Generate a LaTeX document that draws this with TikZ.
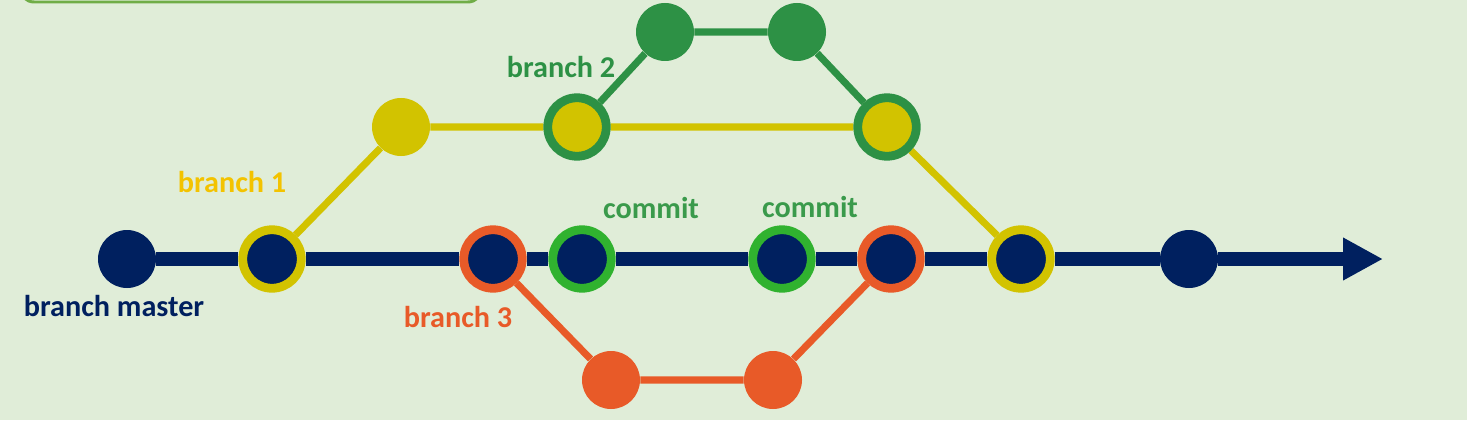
\documentclass[tikz,border=0pt]{standalone}
\usepackage{fontspec}
\setmainfont{Carlito}
\usetikzlibrary{arrows.meta, positioning}
\definecolor{navy}{HTML}{00205F}
\definecolor{bgreen}{HTML}{E0EDD8}
\definecolor{ylw}{HTML}{D2C300}
\definecolor{gold}{HTML}{F3C300}
\definecolor{dkgreen}{HTML}{2D9145}
\definecolor{ltgreen}{HTML}{30B22F}
\definecolor{txgreen}{HTML}{3A9A4B}
\definecolor{orng}{HTML}{E85A28}
\definecolor{boxgreen}{HTML}{70AD47}
\pgfdeclarelayer{bg}
\pgfdeclarelayer{edges}
\pgfsetlayers{bg,edges,main}
\tikzset{
    commitdot/.style={circle, fill=#1, inner sep=0pt, minimum size=1.16cm},
    ringdot/.style 2 args={circle, fill=#2, draw=#1, line width=5pt, inner sep=0pt, minimum size=1.17cm},
    tag/.style={font=\bfseries\fontsize{17.2}{20}\selectfont, text=#1},
    link/.style={line width=#1}
}

\begin{document}
\begin{tikzpicture}
    \begin{pgfonlayer}{bg}
        \fill[bgreen] (0,0.08) rectangle (29.34,8.48);
        \begin{scope}
            \clip (0,0) rectangle (29.48,8.48);
            \draw[boxgreen, line width=1.7pt, rounded corners=8pt] (0.40,9.30) rectangle (9.64,8.44);
        \end{scope}
    \end{pgfonlayer}
    \useasboundingbox (0,0) rectangle (29.48,8.48);

    % master line
    \node[commitdot=navy] (m0) at (2.54,3.30) {};
    \node[ringdot={ylw}{navy}] (m1) at (5.44,3.30) {};
    \node[ringdot={orng}{navy}] (m2) at (9.86,3.30) {};
    \node[ringdot={ltgreen}{navy}] (m3) at (11.64,3.30) {};
    \node[ringdot={ltgreen}{navy}] (m4) at (15.64,3.30) {};
    \node[ringdot={orng}{navy}] (m5) at (17.82,3.30) {};
    \node[ringdot={ylw}{navy}] (m6) at (20.42,3.30) {};
    \node[commitdot=navy] (m7) at (23.78,3.30) {};
    \coordinate (tip) at (27.66,3.30);

    % branch 1
    \node[commitdot=ylw] (y1) at (8.02,5.94) {};
    \node[ringdot={dkgreen}{ylw}] (y2) at (11.54,5.94) {};
    \node[ringdot={dkgreen}{ylw}] (y3) at (17.74,5.94) {};

    % branch 2
    \node[commitdot=dkgreen] (g1) at (13.30,7.84) {};
    \node[commitdot=dkgreen] (g2) at (15.94,7.84) {};

    % branch 3
    \node[commitdot=orng] (o1) at (12.22,0.88) {};
    \node[commitdot=orng] (o2) at (15.46,0.88) {};

    \begin{pgfonlayer}{edges}
        \draw[link=8pt, navy, -{Triangle[length=0.8cm, width=0.8cm]}] (m0) -- (m1) -- (m2) -- (m3) -- (m4) -- (m5) -- (m6) -- (m7) -- (tip);
        \draw[link=4pt, ylw] (m1) -- (y1) -- (y2) -- (y3) -- (m6);
        \draw[link=4pt, dkgreen] (y2) -- (g1) -- (g2) -- (y3);
        \draw[link=4pt, orng] (m2) -- (o1) -- (o2) -- (m5);
    \end{pgfonlayer}

    \node[tag=navy] (lmaster) at (2.28,2.36) {branch master};
    \node[tag=gold] (lb1) at (4.64,4.84) {branch 1};
    \node[tag=dkgreen] (lb2) at (11.22,7.14) {branch 2};
    \node[tag=orng] (lb3) at (9.16,2.14) {branch 3};
    \node[tag=txgreen] (lc1) at (13.02,4.32) {commit};
    \node[tag=txgreen] (lc2) at (16.20,4.34) {commit};
\end{tikzpicture}
\end{document}
